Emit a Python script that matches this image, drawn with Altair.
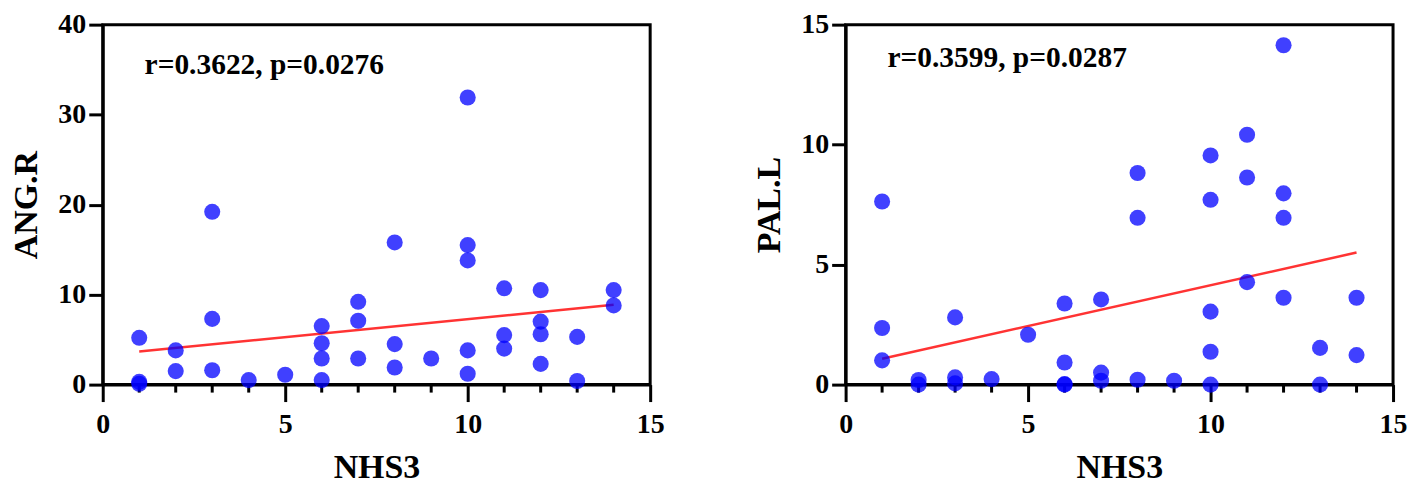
import altair as alt
import pandas as pd

# ---- data ----
nhs3_left = [1, 1, 1, 2, 2, 3, 3, 3, 4, 5, 6, 6, 6, 6, 7, 7, 7, 8, 8, 8, 9,
             10, 10, 10, 10, 10, 11, 11, 11, 12, 12, 12, 12, 13, 13, 14, 14]
ang_r = [5.2, 0.3, 0.1, 3.8, 1.5, 19.2, 7.3, 1.6, 0.5, 1.1, 6.5, 4.6, 2.9, 0.5,
         9.2, 7.1, 2.9, 15.8, 4.5, 1.9, 2.9, 31.9, 15.5, 13.8, 3.8, 1.2,
         10.7, 5.5, 4.0, 10.5, 7.0, 5.6, 2.3, 5.3, 0.4, 10.5, 8.8]

nhs3_right = [1, 1, 1, 2, 2, 3, 3, 3, 4, 5, 6, 6, 6, 6, 7, 7, 7, 8, 8, 8, 9,
              10, 10, 10, 10, 10, 11, 11, 11, 12, 12, 12, 12, 13, 13, 14, 14]
pal_l = [7.63, 2.36, 1.01, 0.19, 0.0, 2.8, 0.3, 0.05, 0.23, 2.08, 3.38, 0.92, 0.02, 0.0,
         3.55, 0.5, 0.16, 8.82, 6.95, 0.2, 0.16, 9.55, 7.7, 3.04, 1.37, 0.0,
         10.41, 8.63, 4.27, 14.14, 7.97, 6.95, 3.62, 1.53, 0.0, 3.62, 1.23]

x_major = [0, 5, 10, 15]
x_minor = [1, 2, 3, 4, 6, 7, 8, 9, 11, 12, 13, 14]
left_yticks = [0, 10, 20, 30, 40]
right_yticks = [0, 5, 10, 15]
left_note = "r=0.3622, p=0.0276"
right_note = "r=0.3599, p=0.0287"

FONT = "Liberation Serif"
W, H = 549, 361


def panel(xs, ys, ylabel, ymax, yticks, note, note_x, note_y):
    df = pd.DataFrame({"NHS3": xs, "val": ys})
    xscale = alt.Scale(domain=[0, 15], nice=False, zero=False)
    yscale = alt.Scale(domain=[0, ymax], nice=False)
    xaxis = alt.Axis(values=x_major, tickSize=17, tickWidth=3, domainWidth=3,
                     domainColor="black", tickColor="black", grid=False,
                     labelFont=FONT, labelFontSize=28, labelFontWeight="bold",
                     labelColor="black", labelPadding=9,
                     titleFont=FONT, titleFontSize=34, titleFontWeight="bold",
                     titleColor="black", titlePadding=12, labelFlush=False)
    yaxis = alt.Axis(values=yticks, tickSize=14, tickWidth=3, domainWidth=3,
                     domainColor="black", tickColor="black", grid=False,
                     labelFont=FONT, labelFontSize=28, labelFontWeight="bold",
                     labelColor="black", labelPadding=3,
                     titleFont=FONT, titleFontSize=34, titleFontWeight="bold",
                     titleColor="black", titlePadding=14, labelFlush=False)
    minor = alt.Chart(pd.DataFrame({"t": x_minor})).mark_rule(
        color="black", strokeWidth=3
    ).encode(
        x=alt.X("t:Q", scale=xscale, axis=xaxis, title="NHS3"),
        y=alt.value(H), y2=alt.value(H + 8),
    )
    reg = alt.Chart(df).transform_regression("NHS3", "val").mark_line(
        color="#ff3333", strokeWidth=2.5
    ).encode(
        x=alt.X("NHS3:Q", scale=xscale, axis=xaxis, title="NHS3"),
        y=alt.Y("val:Q", scale=yscale, axis=yaxis, title=ylabel),
    )
    pts = alt.Chart(df).mark_circle(size=260, color="#0000ff", opacity=0.75).encode(
        x=alt.X("NHS3:Q", scale=xscale, axis=xaxis, title="NHS3"),
        y=alt.Y("val:Q", scale=yscale, axis=yaxis, title=ylabel),
    )
    txt = alt.Chart(pd.DataFrame({"label": [note]})).mark_text(
        font=FONT, fontSize=29.5, fontWeight="bold", align="left",
        baseline="alphabetic", color="black"
    ).encode(x=alt.value(note_x), y=alt.value(note_y), text="label:N")
    return alt.layer(minor, reg, pts, txt).properties(width=W, height=H)


left = panel(nhs3_left, ang_r, "ANG.R", 40, left_yticks, left_note, 42, 50)
right = panel(nhs3_right, pal_l, "PAL.L", 15, right_yticks, right_note, 42, 42)

chart = alt.hconcat(left, right, spacing=196, bounds="flush").properties(
    padding={"left": 0, "top": 0, "right": 0, "bottom": 0},
    background="white",
).configure_view(stroke="black", strokeWidth=3)

chart.save("out.html", embed_options={"renderer": "svg", "actions": False})
